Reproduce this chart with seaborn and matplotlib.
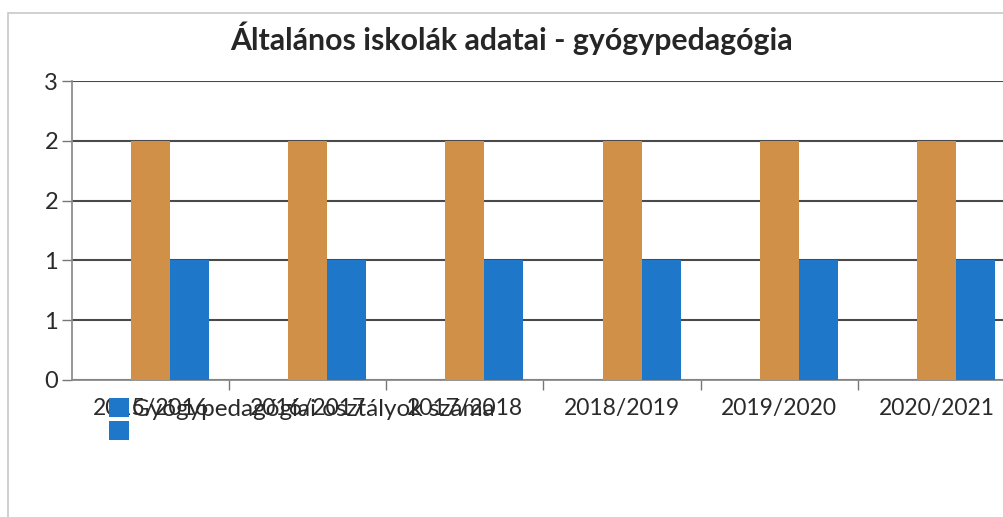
import math
import pandas as pd
import matplotlib
matplotlib.use('Agg')
import matplotlib.pyplot as plt
from matplotlib.patches import Patch, Rectangle
from matplotlib.ticker import FuncFormatter
import seaborn as sns

# adatok
tanevek = ['2015/2016', '2016/2017', '2017/2018', '2018/2019', '2019/2020', '2020/2021']
ures_sorozat = [0, 0, 0, 0, 0, 0]
narancs_sorozat = [2, 2, 2, 2, 2, 2]
osztalyok_szama = [1, 1, 1, 1, 1, 1]
sorozat_nevek = ['s0', 's1', 'Gyógypedagógiai osztályok száma']

df = pd.DataFrame({
    'tanev': tanevek * 3,
    'ertek': ures_sorozat + narancs_sorozat + osztalyok_szama,
    'sorozat': [sorozat_nevek[0]] * 6 + [sorozat_nevek[1]] * 6 + [sorozat_nevek[2]] * 6,
})

sns.set_theme(style='white')
plt.rcParams['font.family'] = ['Lato', 'DejaVu Sans']

kek = '#1f77c9'
narancs = '#d09048'

fig = plt.figure(figsize=(10.04, 5.17), dpi=100)
keret = Rectangle((8 / 1004, -0.1), 1.2, 1 - 13 / 517 + 0.1, transform=fig.transFigure,
                  facecolor='white', edgecolor='#c8c8c8', linewidth=1.2, zorder=-10)
fig.add_artist(keret)
ax = fig.add_axes([72 / 1004, 1 - 380 / 517, 943 / 1004, 299 / 517])
ax.set_facecolor('none')
ax.set_zorder(5)

sns.barplot(data=df, x='tanev', y='ertek', hue='sorozat', palette=['white', narancs, kek],
            width=0.745, gap=0, linewidth=0, saturation=1, legend=False, ax=ax, zorder=3)

ax.set_xlim(-0.5, 5.5)
ax.set_ylim(0, 2.5)
ax.set_yticks([0, 0.5, 1.0, 1.5, 2.0, 2.5])
ax.yaxis.set_major_formatter(FuncFormatter(lambda v, p: str(int(math.floor(v + 0.5)))))
ax.yaxis.grid(True, color='#4a4a4a', linewidth=1.5, zorder=1)
ax.set_axisbelow(True)
ax.set_xlabel('')
ax.set_ylabel('')

ax.set_xticks([0.5, 1.5, 2.5, 3.5, 4.5], minor=True)
ax.tick_params(axis='x', which='major', length=0, pad=13, labelsize=16.5, labelcolor='#2a2a2a')
ax.tick_params(axis='x', which='minor', length=7, width=1, color='#777777', direction='out', bottom=True)
ax.tick_params(axis='y', length=7, width=1, color='#777777', direction='out', left=True,
               labelsize=17, labelcolor='#2a2a2a', pad=3)

for s in ['top', 'right']:
    ax.spines[s].set_visible(False)
ax.spines['left'].set_color('#8a8a8a')
ax.spines['bottom'].set_color('#8a8a8a')
ax.spines['bottom'].set_linewidth(1.3)

fig.text(511 / 1004, 1 - 38 / 517, 'Általános iskolák adatai - gyógypedagógia', ha='center', va='center',
         fontsize=21.8, fontweight='bold', color='#262626')

kezek = [Patch(facecolor=kek, edgecolor='none'), Patch(facecolor=kek, edgecolor='none')]
ax.legend(kezek, ['Gyógypedagógiai osztályok száma', ''], loc='upper left',
          bbox_to_anchor=(97 / 1004, 1 - 386 / 517), bbox_transform=fig.transFigure,
          frameon=False, fontsize=17.5, handlelength=0.8, handleheight=0.8,
          handletextpad=0.15, borderpad=0, labelspacing=0.05, labelcolor='#2a2a2a')

fig.savefig('out.png', dpi=100)
